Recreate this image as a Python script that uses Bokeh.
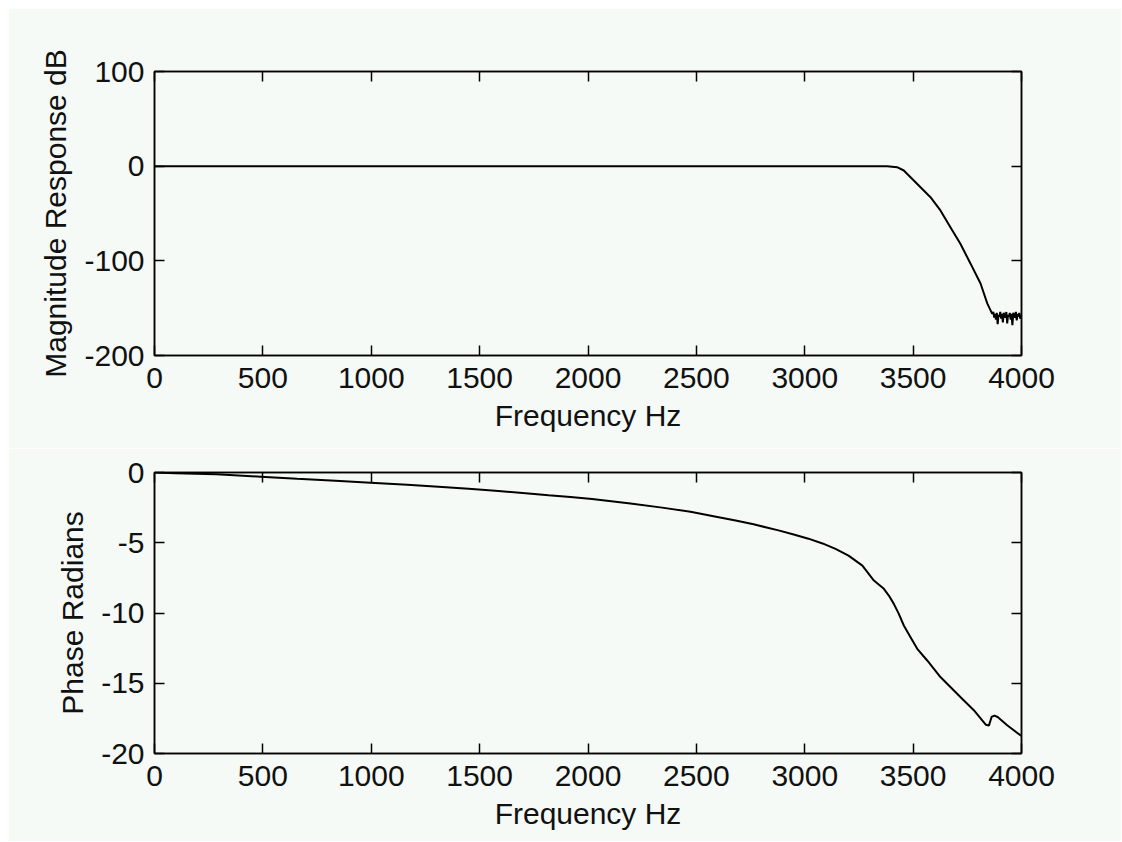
from bokeh.plotting import figure
from bokeh.models import Range1d, FixedTicker, LinearAxis, CustomJSTickFormatter, Spacer
from bokeh.layouts import column, row
from bokeh.embed import file_html
from bokeh.resources import INLINE

# ---------------- data ----------------
x_ticks = [0, 500, 1000, 1500, 2000, 2500, 3000, 3500, 4000]
mag_ticks = [-200, -100, 0, 100]
phase_ticks = [-20, -15, -10, -5, 0]

mag_freq = [0, 500, 1000, 1500, 2000, 2500, 3000, 3300, 3380, 3426, 3457, 3503,
            3580, 3626, 3672, 3718, 3765, 3811, 3842, 3865,
            3870, 3874, 3878, 3882, 3886, 3890, 3894, 3898, 3902, 3906, 3910,
            3914, 3918, 3922, 3926, 3930, 3934, 3938, 3942, 3946, 3950, 3954,
            3958, 3962, 3966, 3970, 3974, 3978, 3982, 3986, 3990, 3994, 4000]
mag_db = [0, 0, 0, 0, 0, 0, 0, 0, 0, -1.1, -4.6, -15.1,
          -32.8, -46.8, -64.5, -82, -103, -124, -145, -156,
          -154, -160, -156, -162, -155, -167, -157, -159, -154, -161, -156,
          -165, -155, -158, -160, -154, -166, -157, -159, -155, -162, -156,
          -168, -155, -158, -160, -154, -163, -156, -159, -155, -161, -157]

ph_freq = [0, 97, 286, 489, 658, 835, 997, 1166, 1310, 1449, 1587, 1712, 1818,
           1919, 2019, 2196, 2342, 2473, 2579, 2681, 2764, 2879, 2949, 3017,
           3082, 3142, 3202, 3266, 3319, 3365, 3388, 3411, 3434, 3457, 3488,
           3519, 3565, 3626, 3672, 3718, 3780, 3835, 3850, 3862, 3875, 3890,
           3934, 3995, 4000]
ph_rad = [0, -0.05, -0.13, -0.3, -0.45, -0.59, -0.73, -0.88, -1.02, -1.16,
          -1.32, -1.47, -1.62, -1.74, -1.89, -2.21, -2.5, -2.8, -3.11, -3.41,
          -3.69, -4.12, -4.41, -4.71, -5.05, -5.44, -5.92, -6.63, -7.69, -8.28,
          -8.76, -9.35, -10.06, -10.89, -11.72, -12.55, -13.38, -14.56, -15.27,
          -15.98, -16.92, -17.95, -18.0, -17.4, -17.3, -17.4, -17.99, -18.7,
          -18.75]

BG = "#f5faf7"
FONT = "Liberation Sans"
FSIZE = "30px"


def make_fig(ylo, yhi, yticks, ylabel, h, top, bottom):
    p = figure(output_backend="svg", toolbar_location=None,
               width=1113, height=h,
               x_range=Range1d(0, 4000), y_range=Range1d(ylo, yhi),
               min_border_left=146, min_border_right=100,
               min_border_top=top, min_border_bottom=bottom)
    p.background_fill_color = BG
    p.border_fill_color = BG
    p.outline_line_color = "black"
    p.outline_line_width = 1.5
    p.grid.visible = False
    for ax, ticks in ((p.xaxis[0], x_ticks), (p.yaxis[0], yticks)):
        ax.ticker = FixedTicker(ticks=ticks)
        ax.formatter = CustomJSTickFormatter(code="return tick.toString();")
        ax.major_tick_in = 10
        ax.major_tick_out = 0
        ax.major_tick_line_color = "black"
        ax.major_tick_line_width = 1.5
        ax.minor_tick_line_color = None
        ax.axis_line_color = "black"
        ax.axis_line_width = 1.5
        ax.major_label_text_font = FONT
        ax.major_label_text_font_size = FSIZE
        ax.major_label_text_color = "#111111"
        ax.axis_label_text_font = FONT
        ax.axis_label_text_font_size = FSIZE
        ax.axis_label_text_font_style = "normal"
        ax.axis_label_text_color = "#111111"
    p.xaxis.axis_label = "Frequency Hz"
    p.yaxis.axis_label = ylabel
    p.xaxis.major_label_standoff = 12
    p.xaxis.axis_label_standoff = 8
    p.yaxis.major_label_standoff = 10
    p.yaxis.axis_label_standoff = 9
    for loc, ticks in (("above", x_ticks), ("right", yticks)):
        a = LinearAxis(ticker=FixedTicker(ticks=ticks),
                       major_label_text_color=None,
                       major_tick_in=10, major_tick_out=0,
                       major_tick_line_color="black", major_tick_line_width=1.5,
                       minor_tick_line_color=None,
                       axis_line_color="black", axis_line_width=1.5)
        p.add_layout(a, loc)
    return p


p1 = make_fig(-200, 100, mag_ticks, "Magnitude Response dB", 440, 63, 93)
p1.line(mag_freq, mag_db, line_color="black", line_width=2)

p2 = make_fig(-20, 0, phase_ticks, "Phase Radians", 393, 24, 88)
p2.line(ph_freq, ph_rad, line_color="black", line_width=2)

layout = column(Spacer(height=8),
                row(Spacer(width=8), column(p1, p2, spacing=0), spacing=0),
                spacing=0)
open("out.html", "w").write(file_html(layout, INLINE))
